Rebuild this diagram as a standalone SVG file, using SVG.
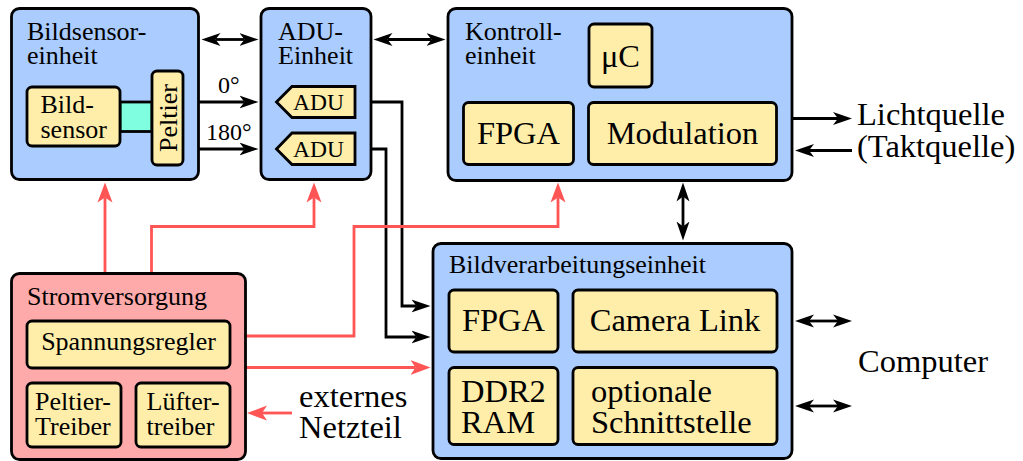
<svg xmlns="http://www.w3.org/2000/svg" width="1023" height="461" viewBox="0 0 1023 461">
<style>
text{font-family:"Liberation Serif","DejaVu Serif","Noto Serif","Times New Roman",serif;fill:#000}
.outer{fill:#aaccff;stroke:#000;stroke-width:2.8}
.power{fill:#ffaaaa;stroke:#000;stroke-width:2.8}
.inner{fill:#ffeeaa;stroke:#000;stroke-width:2.8}
.lbl{font-size:26px}
.mid{font-size:26px}
.big{font-size:32.5px}
.blk{fill:none;stroke:#000;stroke-width:2.8}
.red{fill:none;stroke:#ff5555;stroke-width:2.8}
</style>
<defs>
<marker id="ab" markerUnits="userSpaceOnUse" markerWidth="26" markerHeight="18" viewBox="0 -9 26 18" refX="5" refY="0" orient="auto-start-reverse">
<path d="M0,-6.5 L19,0 L0,6.5 L5,0 Z" fill="#000"/>
</marker>
<marker id="ar" markerUnits="userSpaceOnUse" markerWidth="26" markerHeight="20" viewBox="0 -10 26 20" refX="5" refY="0" orient="auto-start-reverse">
<path d="M0,-7.5 L20,0 L0,7.5 L5,0 Z" fill="#ff5555"/>
</marker>
</defs>

<g id="connectors">
<line class="blk" x1="215.5" y1="39.5" x2="244.5" y2="39.5" marker-start="url(#ab)" marker-end="url(#ab)"/>
<line class="blk" x1="387.5" y1="39.5" x2="431.5" y2="39.5" marker-start="url(#ab)" marker-end="url(#ab)"/>
<line class="blk" x1="199" y1="102" x2="244.5" y2="102" marker-end="url(#ab)"/>
<line class="blk" x1="199" y1="149" x2="244.5" y2="149" marker-end="url(#ab)"/>
<path class="blk" d="M355,102 H402 V306 H416.5" marker-end="url(#ab)"/>
<path class="blk" d="M355,149 H386 V337 H416.5" marker-end="url(#ab)"/>
<line class="blk" x1="793" y1="118.5" x2="838" y2="118.5" marker-end="url(#ab)"/>
<line class="blk" x1="852" y1="150.5" x2="809" y2="150.5" marker-end="url(#ab)"/>
<line class="blk" x1="683" y1="196.5" x2="683" y2="226.5" marker-start="url(#ab)" marker-end="url(#ab)"/>
<line class="blk" x1="809" y1="321" x2="838" y2="321" marker-start="url(#ab)" marker-end="url(#ab)"/>
<line class="blk" x1="809" y1="406" x2="838" y2="406" marker-start="url(#ab)" marker-end="url(#ab)"/>
<line class="red" x1="105" y1="273" x2="105" y2="197.5" marker-end="url(#ar)"/>
<path class="red" d="M151.5,273 V226.5 H314 V197.5" marker-end="url(#ar)"/>
<path class="red" d="M246,336 H354 V226.5 H558 V197.5" marker-end="url(#ar)"/>
<line class="red" x1="246" y1="367.5" x2="415.5" y2="367.5" marker-end="url(#ar)"/>
<line class="red" x1="292" y1="413" x2="262" y2="413" marker-end="url(#ar)"/>
<text x="218" y="93" style="font-size:24px">0°</text>
<text x="206" y="140" style="font-size:24px">180°</text>
</g>

<g id="bildsensoreinheit">
<rect class="outer" x="11.5" y="8.5" width="187" height="171" rx="8"/>
<text class="lbl" x="27" y="40">Bildsensor-</text>
<text class="lbl" x="27" y="64">einheit</text>
<rect x="120" y="102" width="32" height="29.5" fill="#7fffdf" stroke="#000" stroke-width="2.8"/>
<g id="bildsensor">
<rect class="inner" x="27" y="87" width="93" height="59" rx="5"/>
<text class="mid" x="40.5" y="113">Bild-</text>
<text class="mid" x="40.5" y="138">sensor</text>
</g>
<g id="peltier">
<rect class="inner" x="152" y="71" width="31" height="94" rx="5"/>
<text class="mid" text-anchor="middle" transform="translate(176.5,118) rotate(-90)">Peltier</text>
</g>
</g>

<g id="adu-einheit">
<rect class="outer" x="261" y="8.5" width="110" height="171" rx="8"/>
<text class="lbl" x="278" y="39.5">ADU-</text>
<text class="lbl" x="278" y="64">Einheit</text>
<polygon class="inner" points="276.5,102 292,86.5 355,86.5 355,117.5 292,117.5"/>
<text x="293" y="110" style="font-size:23.5px">ADU</text>
<polygon class="inner" points="276.5,149 292,133 355,133 355,164.5 292,164.5"/>
<text x="293" y="157" style="font-size:23.5px">ADU</text>
</g>

<g id="kontrolleinheit">
<rect class="outer" x="448" y="8.5" width="344" height="172" rx="8"/>
<text class="lbl" x="465" y="39.5">Kontroll-</text>
<text class="lbl" x="465" y="64">einheit</text>
<rect class="inner" x="589" y="24" width="63" height="63" rx="5"/>
<text class="big" x="620.5" y="67" text-anchor="middle">μC</text>
<rect class="inner" x="463.5" y="102.5" width="110" height="62" rx="5"/>
<text class="big" x="518.5" y="144" text-anchor="middle">FPGA</text>
<rect class="inner" x="588.5" y="102.5" width="188" height="62" rx="5"/>
<text class="big" x="682.5" y="144" text-anchor="middle">Modulation</text>
</g>

<g id="bildverarbeitungseinheit">
<rect class="outer" x="433" y="243.5" width="359" height="215" rx="8"/>
<text class="lbl" x="449" y="273">Bildverarbeitungseinheit</text>
<rect class="inner" x="449" y="290" width="109" height="62" rx="5"/>
<text class="big" x="503.5" y="331" text-anchor="middle">FPGA</text>
<rect class="inner" x="573" y="290" width="204" height="62" rx="5"/>
<text class="big" x="675" y="331" text-anchor="middle">Camera Link</text>
<rect class="inner" x="449" y="367.5" width="109" height="77" rx="5"/>
<text class="big" x="461" y="402">DDR2</text>
<text class="big" x="461" y="433">RAM</text>
<rect class="inner" x="573" y="367.5" width="204" height="77" rx="5"/>
<text class="big" x="591" y="402">optionale</text>
<text class="big" x="591" y="433">Schnittstelle</text>
</g>

<g id="stromversorgung">
<rect class="power" x="11.5" y="273.5" width="234" height="186" rx="8"/>
<text class="lbl" x="27" y="305">Stromversorgung</text>
<rect class="inner" x="27" y="321" width="203" height="47" rx="5"/>
<text class="mid" x="128.5" y="350" text-anchor="middle">Spannungsregler</text>
<rect class="inner" x="27" y="383" width="94" height="64" rx="5"/>
<text class="mid" x="35" y="410">Peltier-</text>
<text class="mid" x="35" y="435">Treiber</text>
<rect class="inner" x="136" y="383" width="94" height="64" rx="5"/>
<text class="mid" x="146.5" y="410">Lüfter-</text>
<text class="mid" x="146.5" y="435">treiber</text>
</g>

<g id="lichtquelle">
<text class="big" x="857" y="125">Lichtquelle</text>
<text class="big" x="857" y="156.5">(Taktquelle)</text>
</g>
<g id="computer">
<text class="big" x="858" y="372">Computer</text>
</g>
<g id="netzteil">
<text class="big" x="299" y="407">externes</text>
<text class="big" x="299" y="438">Netzteil</text>
</g>
</svg>
